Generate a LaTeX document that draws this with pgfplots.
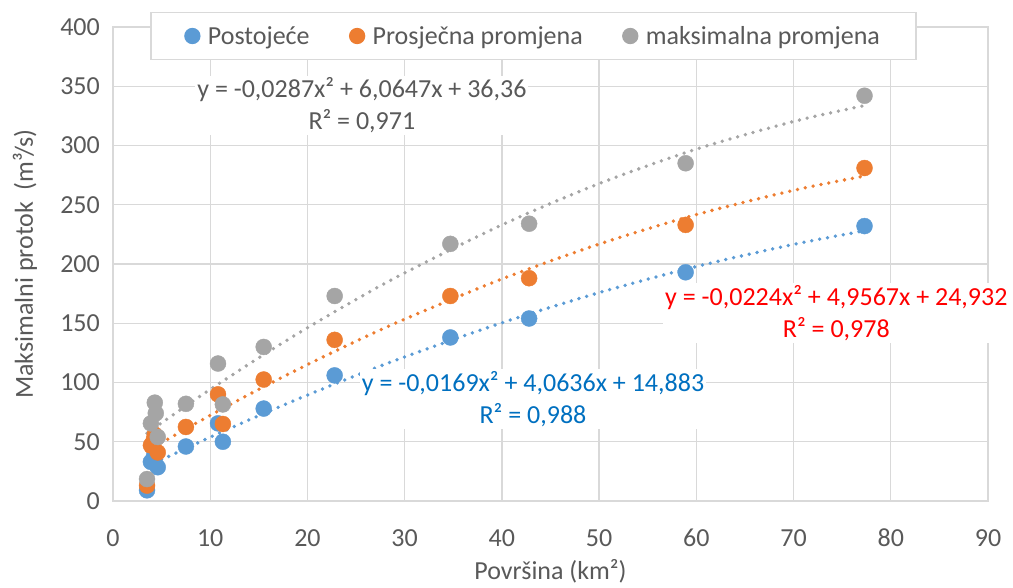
\documentclass[border=0pt]{standalone}
\usepackage{pgfplots}
\pgfplotsset{compat=1.18}
\usepackage{fontspec}
\setmainfont{Carlito}
\definecolor{cblue}{HTML}{5B9BD5}
\definecolor{corange}{HTML}{ED7D31}
\definecolor{cgray}{HTML}{A5A5A5}
\definecolor{cgrid}{HTML}{D9D9D9}
\definecolor{ctext}{HTML}{595959}
\definecolor{cred}{HTML}{FF0000}
\definecolor{cdblue}{HTML}{0070C0}
\newcommand{\fs}{\fontsize{26}{32}\selectfont}
\begin{document}
\begin{tikzpicture}
\begin{axis}[name=ax, scale only axis, width=875pt, height=474pt,
  xmin=0, xmax=90, ymin=0, ymax=400, clip=false,
  xtick={0,10,...,90}, ytick={0,50,...,400},
  grid=major, major grid style={line width=1.3pt, draw=cgrid},
  axis line style={line width=1.3pt, draw=cgrid},
  tick style={draw=none},
  /pgf/number format/assume math mode=true,
  ticklabel style={font=\fs, text=ctext, inner sep=0pt},
  xticklabel style={anchor=north, yshift=-28pt},
  yticklabel style={anchor=east, xshift=-13pt},
  xlabel={Površina (km²)}, ylabel={Maksimalni protok\ \ (m³/s)},
  label style={font=\fs, text=ctext},
  xlabel style={at={(axis description cs:0.5,-0.1477)}, anchor=center},
  ylabel style={at={(axis description cs:-0.1006,0.5)}, anchor=center},
  legend style={at={(0.4805,0.981)}, anchor=center, draw=cgrid, line width=1.3pt,
    fill=white, font=\fs, text=ctext, inner xsep=34pt, inner ysep=12pt,
    /tikz/every odd column/.append style={column sep=6pt},
    /tikz/every even column/.append style={column sep=38pt}},
  legend columns=3, legend cell align=left,
  legend image code/.code={\draw[#1, mark size=7.5pt] plot coordinates {(6pt,0pt)};},
  trend/.style={line width=3.8pt, line cap=round, dash pattern=on 0pt off 8pt, smooth, no marks, forget plot},
]
% trendlines (values of the fitted polynomials shown on the chart)
\addplot[trend, cblue] coordinates {(3.5,28.90) (5,34.78) (7.5,44.41) (10,53.83) (15,72.03) (20,89.40) (25,105.91) (30,121.58) (40,150.39) (50,175.81) (60,197.86) (70,216.53) (77.3,228.02)};
\addplot[trend, corange] coordinates {(3.5,42.01) (5,49.16) (7.5,60.85) (10,72.26) (15,94.24) (20,115.11) (25,134.85) (30,153.47) (40,187.36) (50,216.77) (60,241.69) (70,262.14) (77.3,274.23)};
\addplot[trend, cgray] coordinates {(3.5,57.23) (5,65.97) (7.5,80.23) (10,94.14) (15,120.87) (20,146.17) (25,170.04) (30,192.47) (40,233.03) (50,267.85) (60,296.92) (70,320.26) (77.3,333.67)};
% data
\addplot[only marks, mark=*, cblue, mark size=8pt, mark options={draw=none, fill=cblue}] coordinates {
(3.5,9) (3.9,33) (4.2,37) (4.3,40) (4.6,28.5) (7.5,46) (10.8,65.5) (11.3,50) (15.5,78) (22.8,106) (34.7,138) (42.8,154) (58.9,193) (77.3,232)};
\addlegendentry{Postojeće}
\addplot[only marks, mark=*, corange, mark size=8pt, mark options={draw=none, fill=corange}] coordinates {
(3.5,13) (3.9,47) (4.2,52) (4.3,56) (4.6,41) (7.5,62.5) (10.8,90) (11.3,65) (15.5,102.5) (22.8,136) (34.7,173) (42.8,188) (58.9,233) (77.3,281)};
\addlegendentry{Prosječna promjena}
\addplot[only marks, mark=*, cgray, mark size=8pt, mark options={draw=none, fill=cgray}] coordinates {
(3.5,18.5) (3.9,65.5) (4.4,74) (4.3,83) (4.6,54) (7.5,82) (10.8,116) (11.3,81.5) (15.5,130) (22.8,173) (34.7,217) (42.8,234) (58.9,285) (77.3,342)};
\addlegendentry{maksimalna promjena}
\node[fill=white, inner sep=2pt, align=center, font=\fs, text=ctext] at (axis cs:25.6,334) {y = -0,0287x² + 6,0647x + 36,36\\R² = 0,971};
\node[fill=white, inner sep=2pt, align=center, font=\fs, text=cred] at (axis cs:74.4,158.6) {y = -0,0224x² + 4,9567x + 24,932\\R² = 0,978};
\node[fill=white, inner sep=2pt, align=center, font=\fs, text=cdblue] at (axis cs:43.2,86) {y = -0,0169x² + 4,0636x + 14,883\\R² = 0,988};
\end{axis}
\pgfresetboundingbox
\path (ax.south west) ++(-113pt,-86pt) rectangle ++(1013pt,587pt);
\end{tikzpicture}
\end{document}
